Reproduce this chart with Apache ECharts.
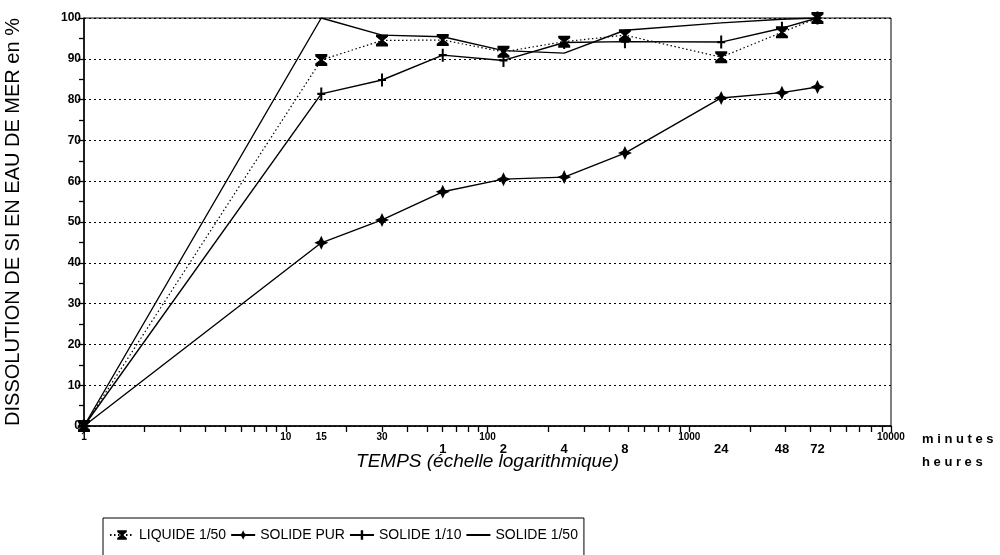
<!DOCTYPE html>
<html>
<head>
<meta charset="utf-8">
<script src="https://cdn.jsdelivr.net/npm/echarts@6/dist/echarts.min.js"></script>
<style>
  html, body { margin: 0; padding: 0; background: #fff; }
  #chart { width: 1000px; height: 555px; }
</style>
</head>
<body>
<div id="chart"></div>
<script>
// temps en minutes (echelle log)
const minutes = [1, 15, 30, 60, 120, 240, 480, 1440, 2880, 4320];
const liquide150 = [0, 89.7, 94.5, 94.6, 91.7, 94.2, 95.8, 90.4, 96.5, 100];
const solidePur = [0, 44.9, 50.5, 57.4, 60.5, 61, 66.9, 80.4, 81.7, 83.1];
const solide110 = [0, 81.4, 84.8, 90.9, 89.6, 94, 94.2, 94.1, 97.5, 100];
const solide150 = [0, 100, 95.8, 95.4, 92, 91.4, 97, 98.8, 99.7, 100];

const seriesNames = ['LIQUIDE 1/50', 'SOLIDE PUR', 'SOLIDE 1/10', 'SOLIDE 1/50'];

// labels de l'axe des temps
const minuteLabels = [1, 10, 15, 30, 100, 1000, 10000];
const hourLabels = [60, 120, 240, 480, 1440, 2880, 4320];

// graduations log : 1..9 par decade
const minuteTicks = [];
for (let d = 1; d < 10000; d *= 10) {
    for (let k = 1; k < 10; k++) minuteTicks.push(d * k);
}
minuteTicks.push(10000);

const symHourglass = 'path://M0,0 L10,0 L10,2 L6.2,5 L10,8 L10,10 L0,10 L0,8 L3.8,5 L0,2 Z';
const symStar = 'path://M5,0 L6.6,3.4 L10,5 L6.6,6.6 L5,10 L3.4,6.6 L0,5 L3.4,3.4 Z';
const symPlus = 'path://M4,0 L6,0 L6,5 L9,5 L9,7 L6,7 L6,12 L4,12 L4,7 L1,7 L1,5 L4,5 Z';

const pairs = arr => minutes.map((m, i) => [m, arr[i]]);

const sans = "'Liberation Sans', Arial, sans-serif";

let chart = echarts.init(document.getElementById('chart'));

let option = {
    animation: false,
    backgroundColor: '#fff',
    grid: {
        left: 84,
        right: 109,
        top: 18,
        bottom: 129,
        outerBoundsMode: 'none',
        show: true,
        borderColor: '#000',
        borderWidth: 1
    },
    legend: {
        left: 103,
        top: 518,
        itemWidth: 24,
        itemHeight: 12,
        itemGap: 4,
        padding: [10, 6, 20, 6],
        borderColor: '#000',
        borderWidth: 1,
        borderRadius: 0,
        textStyle: { color: '#000', fontSize: 14, fontFamily: sans },
        data: [
            { name: seriesNames[0] },
            { name: seriesNames[1] },
            { name: seriesNames[2] },
            { name: seriesNames[3], itemStyle: { opacity: 0 } }
        ]
    },
    xAxis: [{
        type: 'log',
        logBase: 10,
        min: 1,
        max: 10000,
        name: 'TEMPS (échelle logarithmique)',
        nameLocation: 'middle',
        nameGap: 26,
        nameTextStyle: { color: '#000', fontSize: 19, fontStyle: 'italic', fontFamily: sans },
        axisLine: { lineStyle: { color: '#000', width: 1.5 } },
        axisTick: { length: 6, customValues: minuteTicks, lineStyle: { color: '#000', width: 1.3 } },
        axisLabel: {
            customValues: minuteLabels,
            margin: 6,
            color: '#000',
            fontSize: 10,
            fontWeight: 'bold',
            fontFamily: sans,
            formatter: v => String(Math.round(v))
        },
        splitLine: { show: false }
    }, {
        type: 'log',
        logBase: 10,
        min: 1,
        max: 10000,
        position: 'bottom',
        axisLine: { show: false },
        axisTick: { show: false },
        splitLine: { show: false },
        axisLabel: {
            customValues: hourLabels,
            margin: 17,
            color: '#000',
            fontSize: 13,
            fontWeight: 'bold',
            fontFamily: sans,
            formatter: v => String(Math.round(v / 60))
        }
    }],
    yAxis: {
        type: 'value',
        min: 0,
        max: 100,
        interval: 10,
        name: 'DISSOLUTION DE SI EN EAU DE MER en %',
        nameLocation: 'middle',
        nameGap: 61,
        nameTextStyle: { color: '#000', fontSize: 20, fontFamily: sans },
        axisLine: { show: true, lineStyle: { color: '#000', width: 1.5 } },
        axisTick: { length: 6, lineStyle: { color: '#000', width: 1.3 } },
        minorTick: { show: true, splitNumber: 2, length: 5, lineStyle: { color: '#000', width: 1.3 } },
        axisLabel: { margin: 3, color: '#000', fontSize: 12, fontWeight: 'bold', fontFamily: sans },
        splitLine: { show: true, lineStyle: { color: '#000', type: [2, 3], width: 1 } }
    },
    graphic: [{
        type: 'text',
        left: 922,
        top: 433,
        style: { text: 'm i n u t e s', fill: '#000', fontSize: 13, fontWeight: 'bold', fontFamily: sans }
    }, {
        type: 'text',
        left: 922,
        top: 456,
        style: { text: 'h e u r e s', fill: '#000', fontSize: 13, fontWeight: 'bold', fontFamily: sans }
    }],
    series: [{
        name: seriesNames[0],
        type: 'line',
        data: pairs(liquide150),
        symbol: symHourglass,
        symbolSize: [12, 12],
        lineStyle: { color: '#000', width: 1.2, type: [1.5, 2.5] },
        itemStyle: { color: '#000' },
        z: 3
    }, {
        name: seriesNames[1],
        type: 'line',
        data: pairs(solidePur),
        symbol: symStar,
        symbolSize: [14, 14],
        lineStyle: { color: '#000', width: 1.4 },
        itemStyle: { color: '#000' }
    }, {
        name: seriesNames[2],
        type: 'line',
        data: pairs(solide110),
        symbol: symPlus,
        symbolSize: [8, 13],
        lineStyle: { color: '#000', width: 1.4 },
        itemStyle: { color: '#000' }
    }, {
        name: seriesNames[3],
        type: 'line',
        data: pairs(solide150),
        symbol: 'none',
        lineStyle: { color: '#000', width: 1.4 },
        itemStyle: { color: '#000' }
    }]
};

chart.setOption(option);
</script>
</body>
</html>
